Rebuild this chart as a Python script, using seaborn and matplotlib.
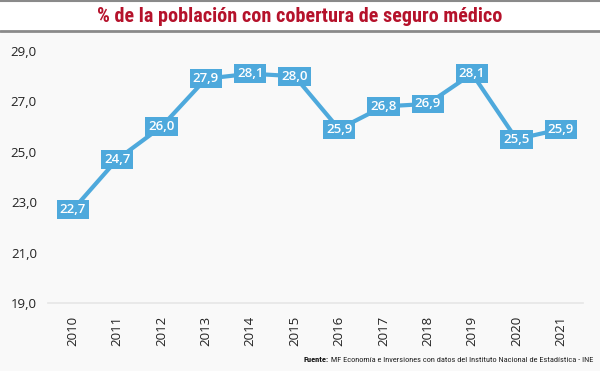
import matplotlib

matplotlib.use("Agg")

import matplotlib.pyplot as plt
import pandas as pd
import seaborn as sns
from matplotlib import font_manager
from matplotlib.lines import Line2D
from matplotlib.patches import Rectangle


YEARS = ["2010", "2011", "2012", "2013", "2014", "2015",
         "2016", "2017", "2018", "2019", "2020", "2021"]
COBERTURA = [22.7, 24.7, 26.0, 27.9, 28.1, 28.0, 25.9, 26.8, 26.9, 28.1, 25.5, 25.9]
Y_TICKS = [19, 21, 23, 25, 27, 29]

TITLE = "% de la población con cobertura de seguro médico"
SOURCE_BOLD = "Fuente:"
SOURCE_TEXT = " MF Economía e Inversiones con datos del Instituto Nacional de Estadística - INE"

BLUE = "#4ea9dc"
RED = "#b5122b"
BG = "#f9f9f9"


def narrow_family():
    names = sorted({f.name for f in font_manager.fontManager.ttflist})
    for want in ["Liberation Sans Narrow", "Roboto Condensed", "Open Sans Condensed",
                 "DejaVu Sans Condensed", "Noto Sans Condensed"]:
        if want in names:
            return [want, "DejaVu Sans"]
    for n in names:
        if "Condensed" in n or "Narrow" in n:
            return [n, "DejaVu Sans"]
    return ["Roboto", "DejaVu Sans"]


def fit_text(fig, text, width_px):
    # shrink/grow font so the text spans the same width as in the reference
    fig.canvas.draw()
    w = text.get_window_extent().width
    text.set_fontsize(text.get_fontsize() * width_px / w)


def main():
    sns.set_style("white")
    plt.rcParams["font.family"] = ["Open Sans", "DejaVu Sans"]
    narrow = narrow_family()

    df = pd.DataFrame({"pos": range(len(YEARS)), "valor": COBERTURA})

    fig = plt.figure(figsize=(6, 3.71), dpi=100, facecolor=BG)
    fig.add_artist(Rectangle((0, 1 - 31 / 371), 1, 31 / 371, transform=fig.transFigure,
                             facecolor="white", edgecolor="none", zorder=0))
    fig.add_artist(Line2D([0, 1], [1 - 31 / 371] * 2, transform=fig.transFigure,
                          color="#8a8a8a", linewidth=2))
    fig.add_artist(Line2D([0, 1], [0.998] * 2, transform=fig.transFigure,
                          color="#8a8a8a", linewidth=1.5))
    title = fig.text(0.5, 1 - 16 / 371, TITLE, ha="center", va="center", color=RED,
                     fontsize=15, fontweight="bold", family=narrow)
    fit_text(fig, title, 404)

    ax = fig.add_axes([48 / 600, 68 / 371, 535 / 600, 252 / 371])
    ax.set_facecolor(BG)
    sns.lineplot(data=df, x="pos", y="valor", color=BLUE, linewidth=3, ax=ax)

    for x, v in zip(df["pos"], df["valor"]):
        ax.text(x, v, f"{v:.1f}".replace(".", ","), ha="center", va="center",
                color="white", fontsize=9.5, fontweight="semibold",
                bbox=dict(boxstyle="square,pad=0.22", facecolor=BLUE, edgecolor="none"))

    ax.set_xlim(-0.56, 11.5)
    ax.set_ylim(19, 29)
    ax.set_xticks(range(len(YEARS)))
    ax.set_xticklabels(YEARS, rotation=90, fontsize=9.5, color="#222222")
    ax.set_yticks(Y_TICKS)
    ax.set_yticklabels([f"{t:.1f}".replace(".", ",") for t in Y_TICKS],
                       fontsize=9.5, color="#222222")
    ax.tick_params(axis="x", length=0, pad=9)
    ax.tick_params(axis="y", length=0, pad=8)
    ax.set_xlabel("")
    ax.set_ylabel("")
    for side in ["top", "right", "left"]:
        ax.spines[side].set_visible(False)
    ax.spines["bottom"].set_color("#e6e6e6")
    ax.spines["bottom"].set_linewidth(1.2)

    src = fig.text(593 / 600, 1 - 360 / 371, SOURCE_TEXT, ha="right", va="center",
                   fontsize=8, family=narrow, color="#222222")
    fit_text(fig, src, 268)
    fig.canvas.draw()
    bb = src.get_window_extent()
    fig.text(bb.x0 / 600, 1 - 360 / 371, SOURCE_BOLD, ha="right", va="center",
             fontsize=src.get_fontsize(), fontweight="bold", family=narrow, color="#111111")

    fig.savefig("out.png", dpi=100, facecolor=BG)
    plt.close(fig)


if __name__ == "__main__":
    main()
